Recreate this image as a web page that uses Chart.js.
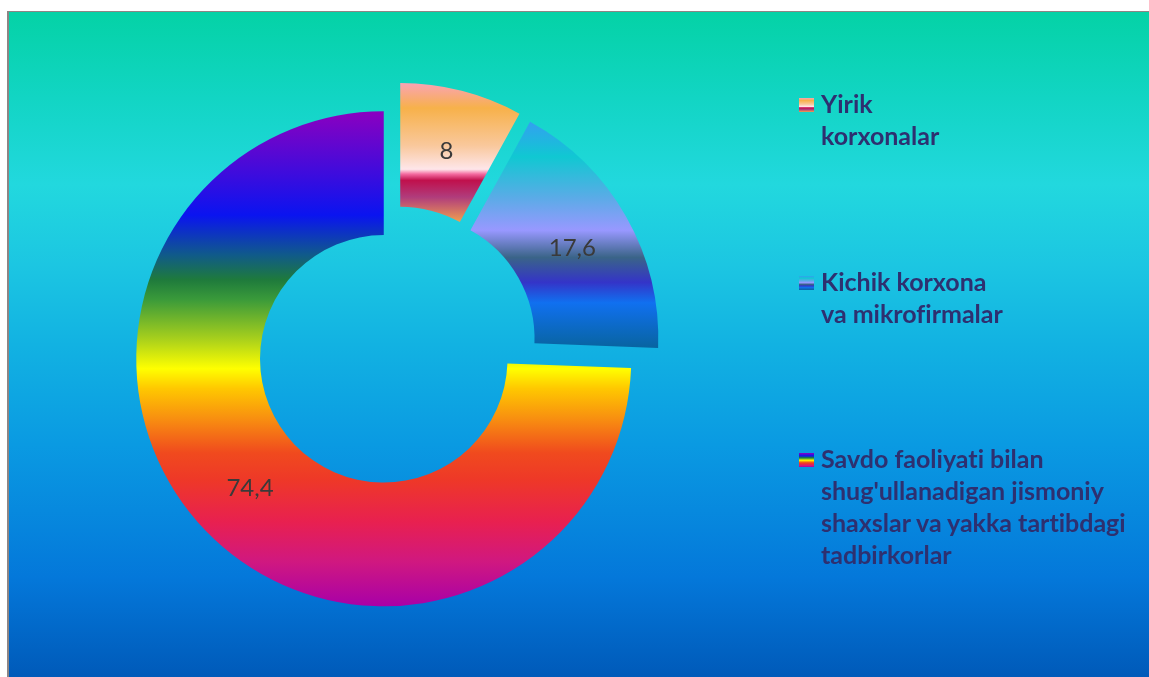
<!DOCTYPE html>
<html>
<head>
<meta charset="utf-8">
<script src="https://cdn.jsdelivr.net/npm/chart.js@4.4.1/dist/chart.umd.min.js"></script>
<style>
  html, body { margin:0; padding:0; background:#ffffff; width:1149px; height:677px; overflow:hidden; }
  #frame {
    position:absolute; left:7px; top:11px; width:1142px; height:666px; box-sizing:border-box;
    border-left:2px solid #8d8585; border-top:1px solid #8d8585;
    background:linear-gradient(to bottom,
      #04d2a6 0%, #12d5c4 13%, #22d8de 26%, #1cc6e2 38%, #12b2e2 50%,
      #0a9ae2 65%, #0478da 85%, #005ab9 100%);
  }
  #c { position:absolute; left:0; top:0; }
  .item { position:absolute; left:821px; font-family:Lato, "Open Sans", sans-serif; font-weight:bold;
          font-size:25px; line-height:32px; color:#2e3070; white-space:nowrap;
          font-variant-ligatures:none; font-feature-settings:"liga" 0, "clig" 0; }
  .sw { position:absolute; left:799px; width:15px; height:14px; }
</style>
</head>
<body>
<div id="frame"></div>
<canvas id="c" width="1149" height="677"></canvas>
<div id="legend"></div>
<script>
// ---- data ----
const categories = [
  ["Yirik", "korxonalar"],
  ["Kichik korxona", "va mikrofirmalar"],
  ["Savdo faoliyati bilan", "shug'ullanadigan jismoniy", "shaxslar va yakka tartibdagi", "tadbirkorlar"]
];
const values = [8, 17.6, 74.4];
const valueLabels = ["8", "17,6", "74,4"];

// ---- styles (gradient stops per slice, top -> bottom) ----
const sliceStops = [
  [[0, '#f9a3b4'], [0.18, '#f7b14a'], [0.45, '#f9c89c'], [0.62, '#fee6ea'], [0.655, '#f46aa0'],
   [0.7, '#c0104c'], [0.82, '#b03c7c'], [1, '#f0a050']],
  [[0, '#33a0f0'], [0.155, '#10c8d2'], [0.33, '#58ace6'], [0.48, '#9898ff'], [0.6, '#3a6488'],
   [0.71, '#3434c8'], [0.8, '#1070f0'], [1, '#0864a0']],
  [[0, '#8b00c0'], [0.21, '#0a14f0'], [0.29, '#105a8a'], [0.34, '#1e7a3c'], [0.38, '#3a9a3a'],
   [0.46, '#a8d01c'], [0.52, '#ffff00'], [0.56, '#ffc800'], [0.62, '#f89010'], [0.69, '#f04a1e'],
   [0.745, '#ee3828'], [0.83, '#e82050'], [0.91, '#d01880'], [1, '#a800a8']]
];
const EXPLODE = 17;

function sliceGradient(c) {
  const chart = c.chart;
  const i = c.dataIndex;
  const stops = sliceStops[i];
  const area = chart.chartArea;
  const ctrl = chart.getDatasetMeta(0).controller;
  if (!area || !ctrl || !ctrl.outerRadius) return stops[0][1];
  const cx = (area.left + area.right) / 2, cy = (area.top + area.bottom) / 2;
  const R = ctrl.outerRadius, r = ctrl.innerRadius;
  const total = values.reduce((a, b) => a + b, 0);
  const before = values.slice(0, i).reduce((a, b) => a + b, 0);
  const a0 = -Math.PI / 2 + 2 * Math.PI * before / total;
  const a1 = a0 + 2 * Math.PI * values[i] / total;
  let ymin = Infinity, ymax = -Infinity;
  for (let k = 0; k <= 80; k++) {
    const a = a0 + (a1 - a0) * k / 80;
    for (const rad of [R, r]) {
      const y = cy + Math.sin(a) * rad;
      ymin = Math.min(ymin, y); ymax = Math.max(ymax, y);
    }
  }
  const g = chart.ctx.createLinearGradient(0, ymin, 0, ymax);
  stops.forEach(s => g.addColorStop(s[0], s[1]));
  return g;
}

const explodePlugin = {
  id: 'explode',
  beforeDatasetDraw(chart, args) {
    const ctx = chart.ctx;
    args.meta.data.forEach(arc => {
      const mid = (arc.startAngle + arc.endAngle) / 2;
      ctx.save();
      ctx.translate(Math.cos(mid) * EXPLODE, Math.sin(mid) * EXPLODE);
      arc.draw(ctx);
      ctx.restore();
    });
    return false;
  }
};

const labelPlugin = {
  id: 'sliceLabels',
  afterDatasetsDraw(chart) {
    const ctx = chart.ctx;
    const meta = chart.getDatasetMeta(0);
    ctx.save();
    ctx.font = '24px Lato, "Open Sans", sans-serif';
    ctx.fillStyle = '#3a3a3a';
    ctx.textAlign = 'center';
    ctx.textBaseline = 'alphabetic';
    meta.data.forEach((arc, i) => {
      const mid = (arc.startAngle + arc.endAngle) / 2;
      const rm = (arc.innerRadius + arc.outerRadius) / 2 + EXPLODE;
      const x = arc.x + Math.cos(mid) * rm;
      const y = arc.y + Math.sin(mid) * rm;
      ctx.fillText(valueLabels[i], x, y + 8.6);
    });
    ctx.restore();
  }
};

new Chart(document.getElementById('c'), {
  type: 'doughnut',
  data: {
    labels: categories,
    datasets: [{ data: values, backgroundColor: sliceGradient, borderWidth: 0 }]
  },
  options: {
    responsive: false,
    animation: false,
    events: [],
    radius: 247.5,
    cutout: '50%',
    layout: { padding: { left: 0, right: 357, top: 17, bottom: 0 } },
    plugins: { legend: { display: false }, tooltip: { enabled: false } }
  },
  plugins: [explodePlugin, labelPlugin]
});

// ---- HTML legend ----
const legendTops = [87, 265, 442];
const swatchTops = [98, 276, 453];
const legend = document.getElementById('legend');
categories.forEach((lines, i) => {
  const sw = document.createElement('div');
  sw.className = 'sw';
  sw.style.top = swatchTops[i] + 'px';
  sw.style.background = 'linear-gradient(to bottom,' +
    sliceStops[i].map(s => s[1] + ' ' + (s[0] * 100) + '%').join(',') + ')';
  legend.appendChild(sw);
  const t = document.createElement('div');
  t.className = 'item';
  t.style.top = legendTops[i] + 'px';
  lines.forEach((ln, k) => {
    if (k) t.appendChild(document.createElement('br'));
    t.appendChild(document.createTextNode(ln));
  });
  legend.appendChild(t);
});
</script>
</body>
</html>
